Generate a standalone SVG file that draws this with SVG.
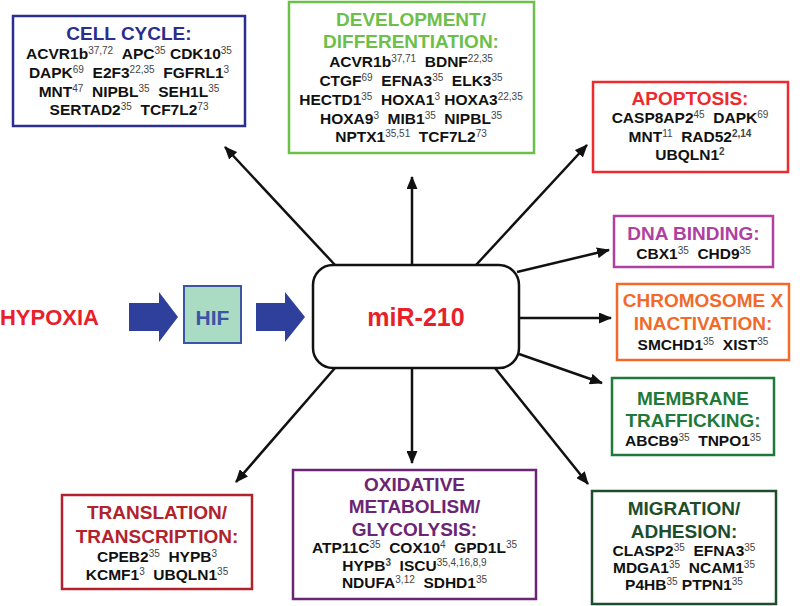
<svg xmlns="http://www.w3.org/2000/svg" width="800" height="606" viewBox="0 0 800 606">
<defs>
<marker id="ah" markerUnits="userSpaceOnUse" markerWidth="13" markerHeight="11" refX="12" refY="5.5" orient="auto">
<path d="M0,0 L13,5.5 L0,11 z" fill="#111"/>
</marker>
<style>
text{font-family:"Liberation Sans",Arial,sans-serif;font-weight:bold;text-anchor:middle}
.g{font-size:15.5px;fill:#111}
.s{font-size:10px;font-weight:normal;fill:#444}
.t{font-size:19px}
.box{fill:#fff;stroke-width:2.5}
.conn line{stroke:#111;stroke-width:2.5;marker-end:url(#ah)}
.big{fill:#2f3f9c}
</style>
</defs>
<rect width="800" height="606" fill="#fff"/>

<g id="connectors" class="conn">
<line x1="335" y1="265" x2="225" y2="147"/>
<line x1="412" y1="265" x2="412" y2="177"/>
<line x1="476" y1="265" x2="587" y2="145"/>
<line x1="517" y1="272" x2="609" y2="250"/>
<line x1="519" y1="318" x2="611" y2="318"/>
<line x1="519" y1="354" x2="602" y2="383"/>
<line x1="495" y1="368" x2="588" y2="484"/>
<line x1="412" y1="368" x2="412" y2="463"/>
<line x1="335" y1="368" x2="236" y2="482"/>
</g>

<g id="hypoxia">
<text x="49.5" y="325" style="font-size:22px;fill:#e8202a">HYPOXIA</text>
</g>
<g id="arrow1"><polygon class="big" points="129,303 159,303 159,292 178,317 159,342 159,331 129,331"/></g>
<g id="hif">
<rect x="184" y="286" width="57" height="57" fill="#a9dcc2" stroke="#3b54a6" stroke-width="2"/>
<text x="212.5" y="325" style="font-size:21px;fill:#3b54a6">HIF</text>
</g>
<g id="arrow2"><polygon class="big" points="256,303 285,303 285,292 305,317 285,342 285,331 256,331"/></g>
<g id="mir210">
<rect x="313" y="265" width="206" height="103" rx="20" fill="#fff" stroke="#111" stroke-width="2.5"/>
<text x="416" y="326" style="font-size:25px;fill:#e8202a">miR-210</text>
</g>

<g id="cellcycle">
<rect class="box" x="13" y="16" width="232" height="110" stroke="#2b2d8f"/>
<text class="t" x="129" y="40" fill="#2b2d8f">CELL CYCLE:</text>
<text class="g" x="129" y="59">ACVR1b<tspan class="s" dy="-5.5">37,72</tspan><tspan dy="5.5">&#160;&#160;APC</tspan><tspan class="s" dy="-5.5">35</tspan><tspan dy="5.5">&#160;CDK10</tspan><tspan class="s" dy="-5.5">35</tspan></text>
<text class="g" x="129" y="78">DAPK<tspan class="s" dy="-5.5">69</tspan><tspan dy="5.5">&#160;&#160;E2F3</tspan><tspan class="s" dy="-5.5">22,35</tspan><tspan dy="5.5">&#160;&#160;FGFRL1</tspan><tspan class="s" dy="-5.5">3</tspan></text>
<text class="g" x="129" y="97">MNT<tspan class="s" dy="-5.5">47</tspan><tspan dy="5.5">&#160;&#160;NIPBL</tspan><tspan class="s" dy="-5.5">35</tspan><tspan dy="5.5">&#160;&#160;SEH1L</tspan><tspan class="s" dy="-5.5">35</tspan></text>
<text class="g" x="129" y="115">SERTAD2<tspan class="s" dy="-5.5">35</tspan><tspan dy="5.5">&#160;&#160;TCF7L2</tspan><tspan class="s" dy="-5.5">73</tspan></text>
</g>

<g id="development">
<rect class="box" x="289" y="2" width="245" height="151" stroke="#6cc04a"/>
<text class="t" x="411" y="26" fill="#6cc04a">DEVELOPMENT/</text>
<text class="t" x="411" y="48" fill="#6cc04a">DIFFERENTIATION:</text>
<text class="g" x="411" y="67">ACVR1b<tspan class="s" dy="-5.5">37,71</tspan><tspan dy="5.5">&#160;&#160;BDNF</tspan><tspan class="s" dy="-5.5">22,35</tspan></text>
<text class="g" x="411" y="86">CTGF<tspan class="s" dy="-5.5">69</tspan><tspan dy="5.5">&#160;&#160;EFNA3</tspan><tspan class="s" dy="-5.5">35</tspan><tspan dy="5.5">&#160;&#160;ELK3</tspan><tspan class="s" dy="-5.5">35</tspan></text>
<text class="g" x="411" y="105">HECTD1<tspan class="s" dy="-5.5">35</tspan><tspan dy="5.5">&#160;&#160;HOXA1</tspan><tspan class="s" dy="-5.5">3</tspan><tspan dy="5.5">&#160;HOXA3</tspan><tspan class="s" dy="-5.5">22,35</tspan></text>
<text class="g" x="411" y="124">HOXA9<tspan class="s" dy="-5.5">3</tspan><tspan dy="5.5">&#160;&#160;MIB1</tspan><tspan class="s" dy="-5.5">35</tspan><tspan dy="5.5">&#160;&#160;NIPBL</tspan><tspan class="s" dy="-5.5">35</tspan></text>
<text class="g" x="411" y="142">NPTX1<tspan class="s" dy="-5.5">35,51</tspan><tspan dy="5.5">&#160;&#160;TCF7L2</tspan><tspan class="s" dy="-5.5">73</tspan></text>
</g>

<g id="apoptosis">
<rect class="box" x="593" y="82" width="195" height="90" stroke="#ee2a2e"/>
<text class="t" x="690" y="105" fill="#ee2a2e">APOPTOSIS:</text>
<text class="g" x="690" y="123">CASP8AP2<tspan class="s" dy="-5.5">45</tspan><tspan dy="5.5">&#160;&#160;DAPK</tspan><tspan class="s" dy="-5.5">69</tspan></text>
<text class="g" x="690" y="142">MNT<tspan class="s" dy="-5.5">11</tspan><tspan dy="5.5">&#160;&#160;RAD52</tspan><tspan class="s" dy="-5.5" style="font-weight:bold">2,14</tspan></text>
<text class="g" x="690" y="160">UBQLN1<tspan class="s" dy="-5.5" style="font-weight:bold">2</tspan></text>
</g>

<g id="dnabinding">
<rect class="box" x="614" y="216" width="159" height="51" stroke="#b040a0"/>
<text class="t" x="693.5" y="240" fill="#b040a0">DNA BINDING:</text>
<text class="g" x="693.5" y="259">CBX1<tspan class="s" dy="-5.5">35</tspan><tspan dy="5.5">&#160;&#160;CHD9</tspan><tspan class="s" dy="-5.5">35</tspan></text>
</g>

<g id="chromosomex">
<rect class="box" x="617" y="284" width="172" height="76" stroke="#f26a2a"/>
<text class="t" x="703" y="307" fill="#f26a2a">CHROMOSOME X</text>
<text class="t" x="703" y="330" fill="#f26a2a">INACTIVATION:</text>
<text class="g" x="703" y="350">SMCHD1<tspan class="s" dy="-5.5">35</tspan><tspan dy="5.5">&#160;&#160;XIST</tspan><tspan class="s" dy="-5.5">35</tspan></text>
</g>

<g id="membrane">
<rect class="box" x="612" y="378" width="162" height="77" stroke="#1f7a3a"/>
<text class="t" x="693" y="405" fill="#1f7a3a">MEMBRANE</text>
<text class="t" x="693" y="427" fill="#1f7a3a">TRAFFICKING:</text>
<text class="g" x="693" y="446">ABCB9<tspan class="s" dy="-5.5">35</tspan><tspan dy="5.5">&#160;&#160;TNPO1</tspan><tspan class="s" dy="-5.5">35</tspan></text>
</g>

<g id="migration">
<rect class="box" x="592" y="491" width="184" height="113" stroke="#1e4d2b"/>
<text class="t" x="684" y="515" fill="#1e4d2b">MIGRATION/</text>
<text class="t" x="684" y="538" fill="#1e4d2b">ADHESION:</text>
<text class="g" x="684" y="556">CLASP2<tspan class="s" dy="-5.5">35</tspan><tspan dy="5.5">&#160;&#160;EFNA3</tspan><tspan class="s" dy="-5.5">35</tspan></text>
<text class="g" x="684" y="573">MDGA1<tspan class="s" dy="-5.5">35</tspan><tspan dy="5.5">&#160;&#160;NCAM1</tspan><tspan class="s" dy="-5.5">35</tspan></text>
<text class="g" x="684" y="590">P4HB<tspan class="s" dy="-5.5">35</tspan><tspan dy="5.5">&#160;PTPN1</tspan><tspan class="s" dy="-5.5">35</tspan></text>
</g>

<g id="oxidative">
<rect class="box" x="293" y="470" width="243" height="129" stroke="#6b2574"/>
<text class="t" x="414.5" y="491" fill="#6b2574">OXIDATIVE</text>
<text class="t" x="414.5" y="513" fill="#6b2574">METABOLISM/</text>
<text class="t" x="414.5" y="536" fill="#6b2574">GLYCOLYSIS:</text>
<text class="g" x="414.5" y="553">ATP11C<tspan class="s" dy="-5.5">35</tspan><tspan dy="5.5">&#160;&#160;COX10</tspan><tspan class="s" dy="-5.5">4</tspan><tspan dy="5.5">&#160;&#160;GPD1L</tspan><tspan class="s" dy="-5.5">35</tspan></text>
<text class="g" x="414.5" y="571">HYPB<tspan class="s" dy="-5.5" style="font-weight:bold">3</tspan><tspan dy="5.5">&#160;&#160;ISCU</tspan><tspan class="s" dy="-5.5">35,4,16,8,9</tspan></text>
<text class="g" x="414.5" y="588">NDUFA<tspan class="s" dy="-5.5">3,12</tspan><tspan dy="5.5">&#160;&#160;SDHD1</tspan><tspan class="s" dy="-5.5">35</tspan></text>
</g>

<g id="translation">
<rect class="box" x="62" y="495" width="190" height="94" stroke="#b2222d"/>
<text class="t" x="157" y="519" fill="#b2222d">TRANSLATION/</text>
<text class="t" x="157" y="543" fill="#b2222d">TRANSCRIPTION:</text>
<text class="g" x="157" y="562">CPEB2<tspan class="s" dy="-5.5">35</tspan><tspan dy="5.5">&#160;&#160;HYPB</tspan><tspan class="s" dy="-5.5">3</tspan></text>
<text class="g" x="157" y="580">KCMF1<tspan class="s" dy="-5.5">3</tspan><tspan dy="5.5">&#160;&#160;UBQLN1</tspan><tspan class="s" dy="-5.5">35</tspan></text>
</g>
</svg>
